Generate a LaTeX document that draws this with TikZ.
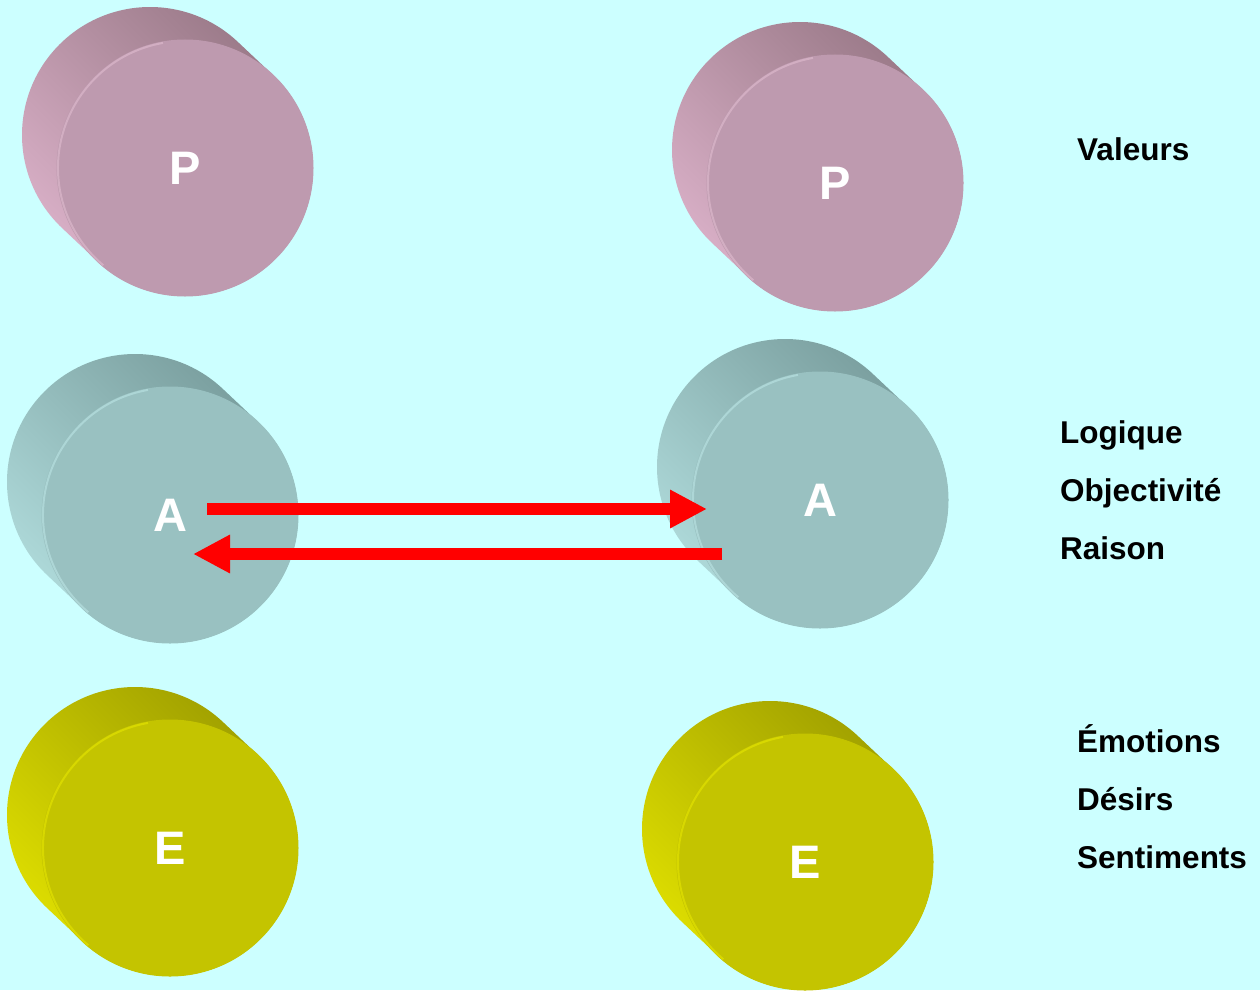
\documentclass[tikz,border=0pt]{standalone}
\usepackage{fontspec}
\setmainfont{Liberation Sans}
\usetikzlibrary{arrows.meta}
\definecolor{bg}{HTML}{CCFFFF}
\definecolor{pF}{HTML}{BE9AAF}
\definecolor{pL}{HTML}{DDB3CB}
\definecolor{pD}{HTML}{967684}
\definecolor{pR}{HTML}{D2AEC2}
\definecolor{aF}{HTML}{99C1C1}
\definecolor{aL}{HTML}{B2DEDE}
\definecolor{aD}{HTML}{769A9A}
\definecolor{aR}{HTML}{ADD6D6}
\definecolor{eF}{HTML}{C4C400}
\definecolor{eL}{HTML}{E2E200}
\definecolor{eD}{HTML}{9C9C00}
\definecolor{eR}{HTML}{D8D800}
\definecolor{arr}{HTML}{FF0000}
\tikzset{
  face/.style={circle,minimum size=256pt,inner sep=0pt,text=white,font=\bfseries\fontsize{47}{47}\selectfont},
  lbl/.style={anchor=base west,inner sep=0pt,font=\bfseries\fontsize{31.5}{31.5}\selectfont},
  redarrow/.style={draw=arr,line width=12pt,-{Triangle[length=37pt,width=36pt]}}
}
% #1 name, #2 x, #3 y (image coords), #4 prefix colour, #5 letter
\newcommand{\mycyl}[5]{%
  \shade[left color=#4D,right color=#4L,shading angle=-45]
    ({#2-35+128*cos(46.7)},{-#3+33+128*sin(46.7)})
    arc[start angle=46.7,end angle=226.7,radius=128pt]
    -- ({#2+128*cos(226.7)},{-#3+128*sin(226.7)})
    arc[start angle=226.7,end angle=406.7,radius=128pt] -- cycle;
  \node[face,fill=#4F,draw=#4F,line width=1pt] (#1) at (#2,-#3) {#5};
  \draw[#4R,line width=2pt] (#2,-#3) ++(100:127) arc[start angle=100,end angle=230,radius=127pt];
}
\begin{document}
\begin{tikzpicture}[x=1pt,y=1pt]
\useasboundingbox (0,0) rectangle (1260,-990);
\fill[bg] (0,0) rectangle (1260,-990);
\begin{scope}
\clip (0,0) rectangle (1260,-990);
\mycyl{P1}{185}{168}{p}{P}
\mycyl{P2}{835}{183}{p}{P}
\mycyl{A1}{170}{515}{a}{A}
\mycyl{A2}{820}{500}{a}{A}
\mycyl{E1}{170}{848}{e}{E}
\mycyl{E2}{805}{862}{e}{E}
\end{scope}
\coordinate (r1s) at (207,-509);
\coordinate (r1e) at (707,-509);
\coordinate (r2s) at (722,-554);
\coordinate (r2e) at (193,-554);
\draw[redarrow] (r1s) -- (r1e);
\draw[redarrow] (r2s) -- (r2e);
\node[lbl] (v) at (1077,-160) {Valeurs};
\node[lbl] (l1) at (1060,-443) {Logique};
\node[lbl] (l2) at (1060,-501) {Objectivité};
\node[lbl] (l3) at (1060,-559) {Raison};
\node[lbl] (e1) at (1077,-752) {Émotions};
\node[lbl] (e2) at (1077,-810) {Désirs};
\node[lbl] (e3) at (1077,-868) {Sentiments};
\end{tikzpicture}
\end{document}
